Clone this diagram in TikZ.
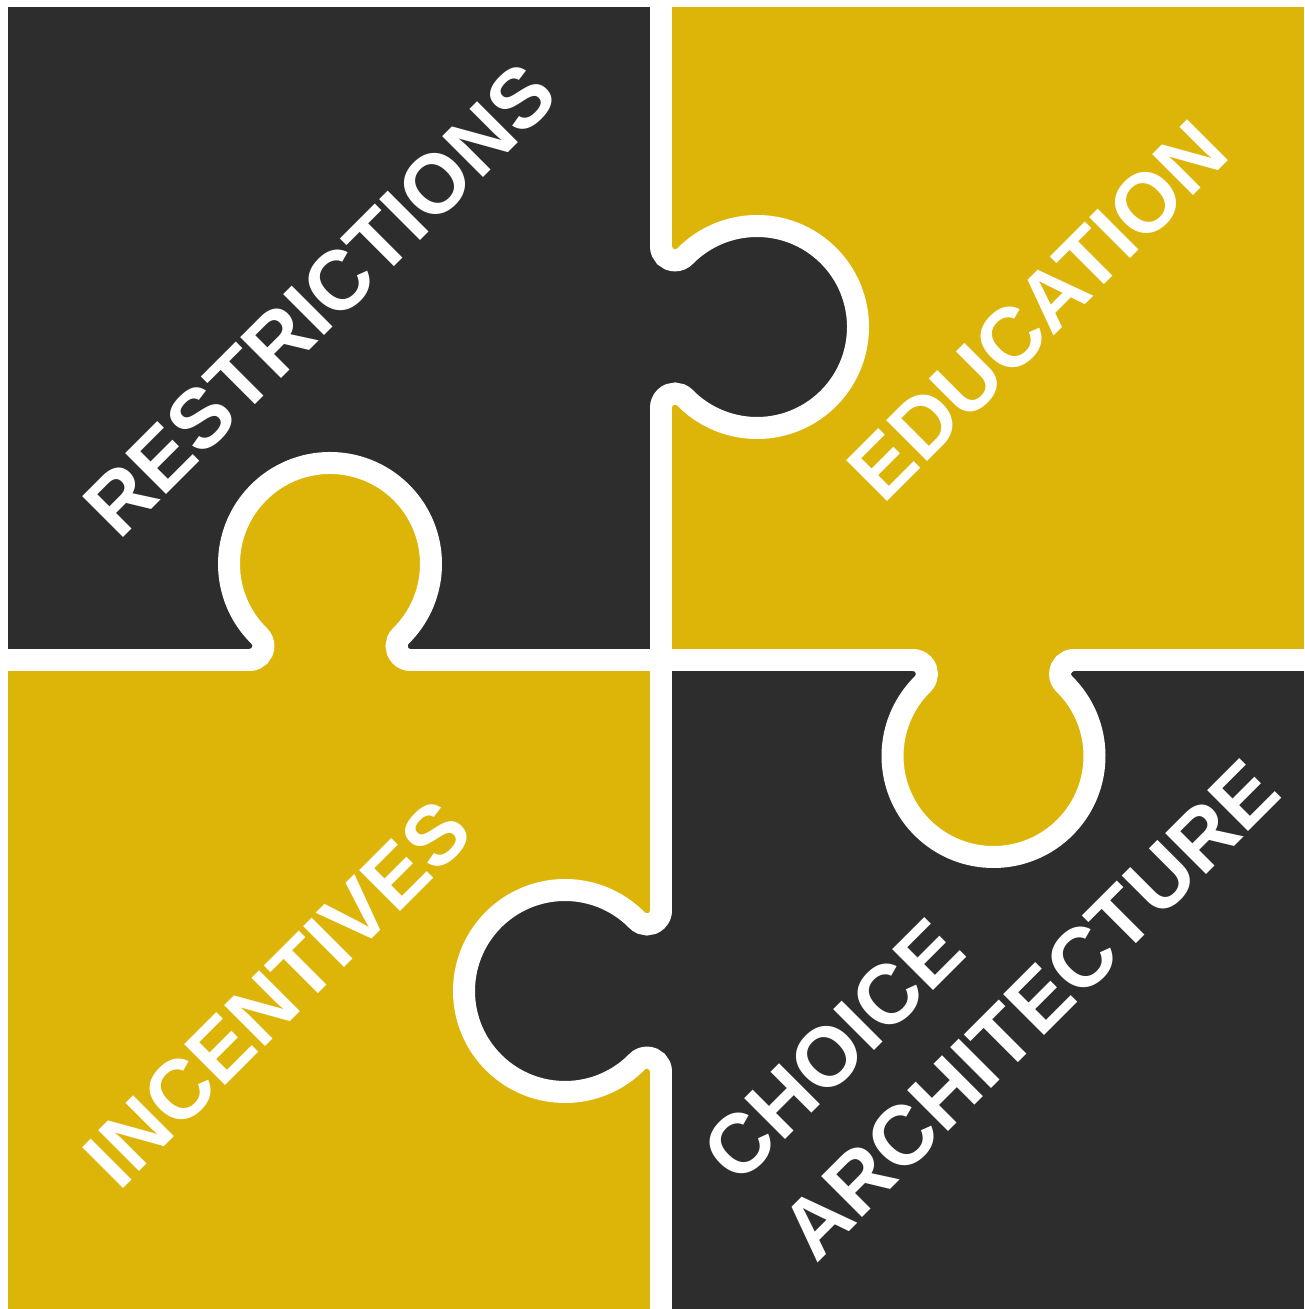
\documentclass[tikz,border=0pt]{standalone}
\usepackage{fontspec}
\setmainfont{Liberation Sans}
\usepackage{tikz}

\definecolor{piecedark}{RGB}{45,45,45}
\definecolor{pieceyellow}{RGB}{221,180,8}

% knob on the local u axis, bulging towards +v
\newcommand{\knob}{(-80.6,0) arc[start angle=-90, end angle=45.5, radius=14]
    arc[start angle=225.5, end angle=-45.5, radius=101]
    arc[start angle=134.5, end angle=270, radius=14]}

\begin{document}
\begin{tikzpicture}[%
        x=1pt, y=1pt,
        gap/.style={draw=white, line width=22pt},
        word/.style={text=white, rotate=45, inner sep=0pt, align=left,
            font=\bfseries\fontsize{84}{110}\selectfont}
    ]
    \useasboundingbox (0,0) rectangle (1304,1309);
    \fill[white] (0,0) rectangle (1304,1309);

    % --- Pieces ---
    \fill[piecedark] (8,649) rectangle (661,1302);
    \fill[pieceyellow] (661,649) rectangle (1304,1302);
    \fill[pieceyellow] (8,0) rectangle (661,649);
    \fill[piecedark] (661,0) rectangle (1304,649);

    % --- Knobs ---
    \begin{scope}[shift={(661,982)}, rotate=-90]
        \fill[piecedark] \knob -- cycle;
        \draw[gap] \knob;
    \end{scope}
    \begin{scope}[shift={(330,649)}]
        \fill[pieceyellow] \knob -- cycle;
        \draw[gap] \knob;
    \end{scope}
    \begin{scope}[shift={(993.5,649)}, rotate=180]
        \fill[pieceyellow] \knob -- cycle;
        \draw[gap] \knob;
    \end{scope}
    \begin{scope}[shift={(661,318)}, rotate=90]
        \fill[piecedark] \knob -- cycle;
        \draw[gap] \knob;
    \end{scope}

    % --- Straight gaps ---
    \draw[gap] (661,1309) -- (661,1060.6);
    \draw[gap] (661,903.4) -- (661,396.6);
    \draw[gap] (661,239.4) -- (661,0);
    \draw[gap] (0,649) -- (251.4,649);
    \draw[gap] (408.6,649) -- (914.9,649);
    \draw[gap] (1072.1,649) -- (1304,649);

    % --- Labels ---
    \node[word] (restrictions) at (320,1009.5) {RESTRICTIONS};
    \node[word] (education) at (1037.8,998.2) {EDUCATION};
    \node[word] (incentives) at (277,315.4) {INCENTIVES};
    \node[word] (choice) at (991,338.5) {CHOICE\\ARCHITECTURE};
\end{tikzpicture}
\end{document}
